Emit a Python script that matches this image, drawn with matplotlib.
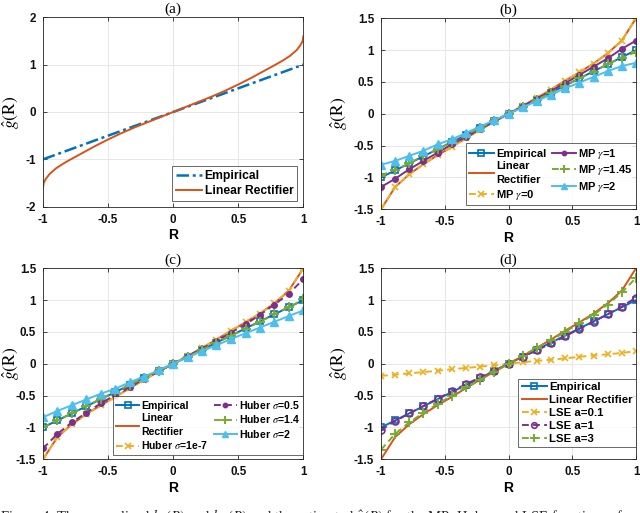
import matplotlib
matplotlib.use("Agg")
import matplotlib.pyplot as plt
import numpy as np

plt.rcParams['mathtext.fontset'] = 'stix'
plt.rcParams['font.family'] = ['Liberation Sans', 'DejaVu Sans']

# ---------------- data ----------------
# panel (a): smooth curve
r_fine = [-1.0, -0.995, -0.98, -0.95, -0.9, -0.85, -0.8, -0.7, -0.6, -0.5, -0.4, -0.3, -0.2, -0.1, 0.0,
          0.1, 0.2, 0.3, 0.4, 0.5, 0.6, 0.7, 0.8, 0.85, 0.9, 0.95, 0.98, 0.995, 1.0]
rect_fine = [-1.6, -1.5, -1.42, -1.31, -1.19, -1.1, -1.02, -0.87, -0.72, -0.58, -0.45, -0.33, -0.22, -0.11, 0.0,
             0.11, 0.22, 0.33, 0.45, 0.58, 0.72, 0.87, 1.02, 1.1, 1.19, 1.31, 1.42, 1.5, 1.6]
emp_line_x = [-1.0, 1.0]
emp_line_y = [-1.0, 1.0]

# panels (b)-(d): 19 sample points
R = [-1.0, -0.889, -0.778, -0.667, -0.556, -0.444, -0.333, -0.222, -0.111, 0.0,
     0.111, 0.222, 0.333, 0.444, 0.556, 0.667, 0.778, 0.889, 1.0]
empirical = [-1.0, -0.889, -0.778, -0.667, -0.556, -0.444, -0.333, -0.222, -0.111, 0.0,
             0.111, 0.222, 0.333, 0.444, 0.556, 0.667, 0.778, 0.889, 1.0]
rectifier = [-1.5, -1.15, -0.95, -0.79, -0.65, -0.52, -0.38, -0.25, -0.12, 0.0,
             0.12, 0.25, 0.38, 0.52, 0.65, 0.79, 0.95, 1.15, 1.5]

mp_g0 = [-1.5, -1.15, -0.95, -0.79, -0.65, -0.52, -0.38, -0.25, -0.12, 0.0,
         0.12, 0.25, 0.38, 0.52, 0.65, 0.79, 0.95, 1.15, 1.5]
mp_g1 = [-1.15, -1.02, -0.87, -0.74, -0.61, -0.48, -0.36, -0.24, -0.12, 0.0,
         0.12, 0.24, 0.36, 0.48, 0.61, 0.74, 0.87, 1.02, 1.15]
mp_g145 = [-0.97, -0.88, -0.78, -0.66, -0.56, -0.44, -0.33, -0.22, -0.11, 0.0,
           0.11, 0.22, 0.33, 0.44, 0.56, 0.66, 0.78, 0.88, 0.97]
mp_g2 = [-0.80, -0.74, -0.66, -0.58, -0.48, -0.40, -0.30, -0.20, -0.10, 0.0,
         0.10, 0.20, 0.30, 0.40, 0.49, 0.58, 0.67, 0.75, 0.80]

hub_1e7 = [-1.5, -1.15, -0.95, -0.79, -0.65, -0.52, -0.38, -0.25, -0.12, 0.0,
           0.12, 0.25, 0.38, 0.52, 0.65, 0.79, 0.95, 1.15, 1.5]
hub_05 = [-1.33, -1.10, -0.92, -0.77, -0.62, -0.49, -0.36, -0.24, -0.12, 0.0,
          0.12, 0.24, 0.36, 0.49, 0.62, 0.77, 0.93, 1.10, 1.33]
hub_14 = [-1.0, -0.89, -0.78, -0.66, -0.55, -0.44, -0.33, -0.22, -0.11, 0.0,
          0.11, 0.22, 0.33, 0.44, 0.55, 0.66, 0.78, 0.89, 1.01]
hub_2 = [-0.84, -0.74, -0.65, -0.56, -0.47, -0.39, -0.29, -0.20, -0.10, 0.0,
         0.10, 0.20, 0.29, 0.39, 0.48, 0.57, 0.66, 0.75, 0.84]

lse_01 = [-0.19, -0.17, -0.15, -0.13, -0.11, -0.085, -0.065, -0.045, -0.02, 0.0,
          0.025, 0.045, 0.065, 0.085, 0.11, 0.13, 0.15, 0.17, 0.20]
lse_1 = [-1.04, -0.90, -0.78, -0.66, -0.55, -0.43, -0.32, -0.21, -0.11, 0.0,
         0.11, 0.21, 0.32, 0.43, 0.55, 0.66, 0.78, 0.90, 1.04]
lse_3 = [-1.35, -1.10, -0.92, -0.77, -0.63, -0.50, -0.37, -0.25, -0.13, 0.0,
         0.13, 0.25, 0.37, 0.50, 0.64, 0.77, 0.93, 1.12, 1.35]

x_ticks = [-1, -0.5, 0, 0.5, 1]
x_ticklabels = ['-1', '-0.5', '0', '0.5', '1']
ya_ticks = [-2, -1, 0, 1, 2]
ya_ticklabels = ['-2', '-1', '0', '1', '2']
yb_ticks = [-1.5, -1, -0.5, 0, 0.5, 1, 1.5]
yb_ticklabels = ['-1.5', '-1', '-0.5', '0', '0.5', '1', '1.5']

# ---------------- style ----------------
C_BLUE = '#0072BD'
C_ORANGE = '#D95319'
C_YELLOW = '#EDB120'
C_PURPLE = '#7E2F8E'
C_GREEN = '#77AC30'
C_LBLUE = '#4DBEEE'
DASH = (3.5, 2.2)

W, H = 640, 513
fig = plt.figure(figsize=(W / 100, H / 100), dpi=100)


def make_ax(l, t, r, b):
    return fig.add_axes([l / W, 1 - b / H, (r - l) / W, (b - t) / H])


def style(ax, title, yt, ytl, ylim, ylab_dx):
    ax.set_xlim(-1, 1)
    ax.set_ylim(*ylim)
    ax.set_xticks(x_ticks)
    ax.set_xticklabels(x_ticklabels)
    ax.set_yticks(yt)
    ax.set_yticklabels(ytl)
    ax.grid(True, color='#e3e3e3', linewidth=0.6)
    ax.set_axisbelow(True)
    for s in ax.spines.values():
        s.set_color('#262626')
        s.set_linewidth(0.6)
    ax.tick_params(direction='in', length=3, width=0.6, colors='#262626',
                   labelsize=8.4, pad=5, top=True, right=True)
    for lab in ax.get_xticklabels() + ax.get_yticklabels():
        lab.set_fontweight('bold')
        lab.set_color('#111111')
    ax.set_xlabel('R', fontsize=10, fontweight='bold', labelpad=2)
    ax.set_ylabel(r'$\hat{g}(\mathrm{R})$', fontsize=12.5)
    w_px = ax.get_position().width * W
    ax.yaxis.set_label_coords(ylab_dx / w_px, 0.5)
    ax.set_title(title, fontsize=11, family='Liberation Serif', pad=3)


def leg(ax, ncol, anchor, fs=8.0, ls=0.3):
    lg = ax.legend(ncol=ncol, loc='lower right', bbox_to_anchor=anchor,
                   fontsize=fs, frameon=True, fancybox=False, handlelength=2.2,
                   handletextpad=0.2, columnspacing=0.5, borderpad=0.3,
                   labelspacing=ls, borderaxespad=0, markerscale=0.8)
    lg.get_frame().set_edgecolor('#262626')
    lg.get_frame().set_linewidth(0.6)
    for t in lg.get_texts():
        t.set_fontweight('bold')
        if '\n' in t.get_text():
            t.set_linespacing(1.45)
    return lg


# ---- (a)
ax = make_ax(43, 17.3, 303.3, 206.7)
ax.plot(emp_line_x, emp_line_y, color=C_BLUE, lw=1.8, linestyle=(0, (5, 1.5, 1.2, 1.5)), label='Empirical')
ax.plot(r_fine, rect_fine, color=C_ORANGE, lw=1.4, label='Linear Rectifier')
style(ax, '(a)', ya_ticks, ya_ticklabels, (-2, 2), -21)
leg(ax, 1, ((297 - 43) / 260.3, (206.7 - 201) / 189.4), fs=8.7)

# ---- (b)
ax = make_ax(381, 18.3, 636, 209.3)
ax.plot(R, empirical, color=C_BLUE, lw=1.4, marker='s', ms=5, mfc='none', mew=1.2, label='Empirical')
ax.plot(R, rectifier, color=C_ORANGE, lw=1.4, label='Linear\nRectifier')
ax.plot(R, mp_g0, color=C_YELLOW, lw=1.4, linestyle=(0, DASH), marker='x', ms=5, mew=1.2, label=r'MP $\gamma$=0')
ax.plot(R, mp_g1, color=C_PURPLE, lw=1.4, marker='.', ms=8, label=r'MP $\gamma$=1')
ax.plot(R, mp_g145, color=C_GREEN, lw=1.4, linestyle=(0, DASH), marker='+', ms=7, mew=1.4, label=r'MP $\gamma$=1.45')
ax.plot(R, mp_g2, color=C_LBLUE, lw=1.4, marker='^', ms=5.5, label=r'MP $\gamma$=2')
style(ax, '(b)', yb_ticks, yb_ticklabels, (-1.5, 1.5), -31)
leg(ax, 2, (1.0, (209.3 - 205) / 191), fs=8.0, ls=0.25)

# ---- (c)
ax = make_ax(43, 268.3, 303.3, 459.3)
ax.plot(R, empirical, color=C_BLUE, lw=1.4, marker='s', ms=5, mfc='none', mew=1.2, label='Empirical')
ax.plot(R, rectifier, color=C_ORANGE, lw=1.4, label='Linear\nRectifier')
ax.plot(R, hub_1e7, color=C_YELLOW, lw=1.4, linestyle=(0, DASH), marker='x', ms=5, mew=1.2, label=r'Huber $\sigma$=1e-7')
ax.plot(R, hub_05, color=C_PURPLE, lw=1.4, linestyle=(0, DASH), marker='.', ms=8, label=r'Huber $\sigma$=0.5')
ax.plot(R, hub_14, color=C_GREEN, lw=1.4, linestyle=(0, DASH), marker='+', ms=7, mew=1.4, label=r'Huber $\sigma$=1.4')
ax.plot(R, hub_2, color=C_LBLUE, lw=1.4, marker='^', ms=5.5, label=r'Huber $\sigma$=2')
style(ax, '(c)', yb_ticks, yb_ticklabels, (-1.5, 1.5), -21)
leg(ax, 2, (1.0, (459.3 - 454.5) / 191), fs=7.6, ls=0.22)

# ---- (d)
ax = make_ax(381, 268.3, 636, 459.3)
ax.plot(R, empirical, color=C_BLUE, lw=1.4, marker='s', ms=5, mfc='none', mew=1.2, label='Empirical')
ax.plot(R, rectifier, color=C_ORANGE, lw=1.4, label='Linear Rectifier')
ax.plot(R, lse_01, color=C_YELLOW, lw=1.4, linestyle=(0, DASH), marker='x', ms=5, mew=1.2, label='LSE a=0.1')
ax.plot(R, lse_1, color=C_PURPLE, lw=1.4, linestyle=(0, DASH), marker='o', ms=5, mfc='none', mew=1.2, label='LSE a=1')
ax.plot(R, lse_3, color=C_GREEN, lw=1.4, linestyle=(0, DASH), marker='+', ms=7, mew=1.4, label='LSE a=3')
style(ax, '(d)', yb_ticks, yb_ticklabels, (-1.5, 1.5), -31)
leg(ax, 1, (1.0, (459.3 - 447) / 191), fs=8.2, ls=0.25)

# caption (cut off at the bottom, as in the reference)
fig.text(0.0, 1 - 507.5 / H,
         r'Figure 4: The normalized $h_e(R)$ and $h_m(R)$ and the estimated $\hat{g}(R)$ for the MP, Huber and LSE functions of',
         ha='left', va='top', fontsize=10.5, family='Liberation Serif', color='#222222')

fig.savefig('out.png', dpi=100)
